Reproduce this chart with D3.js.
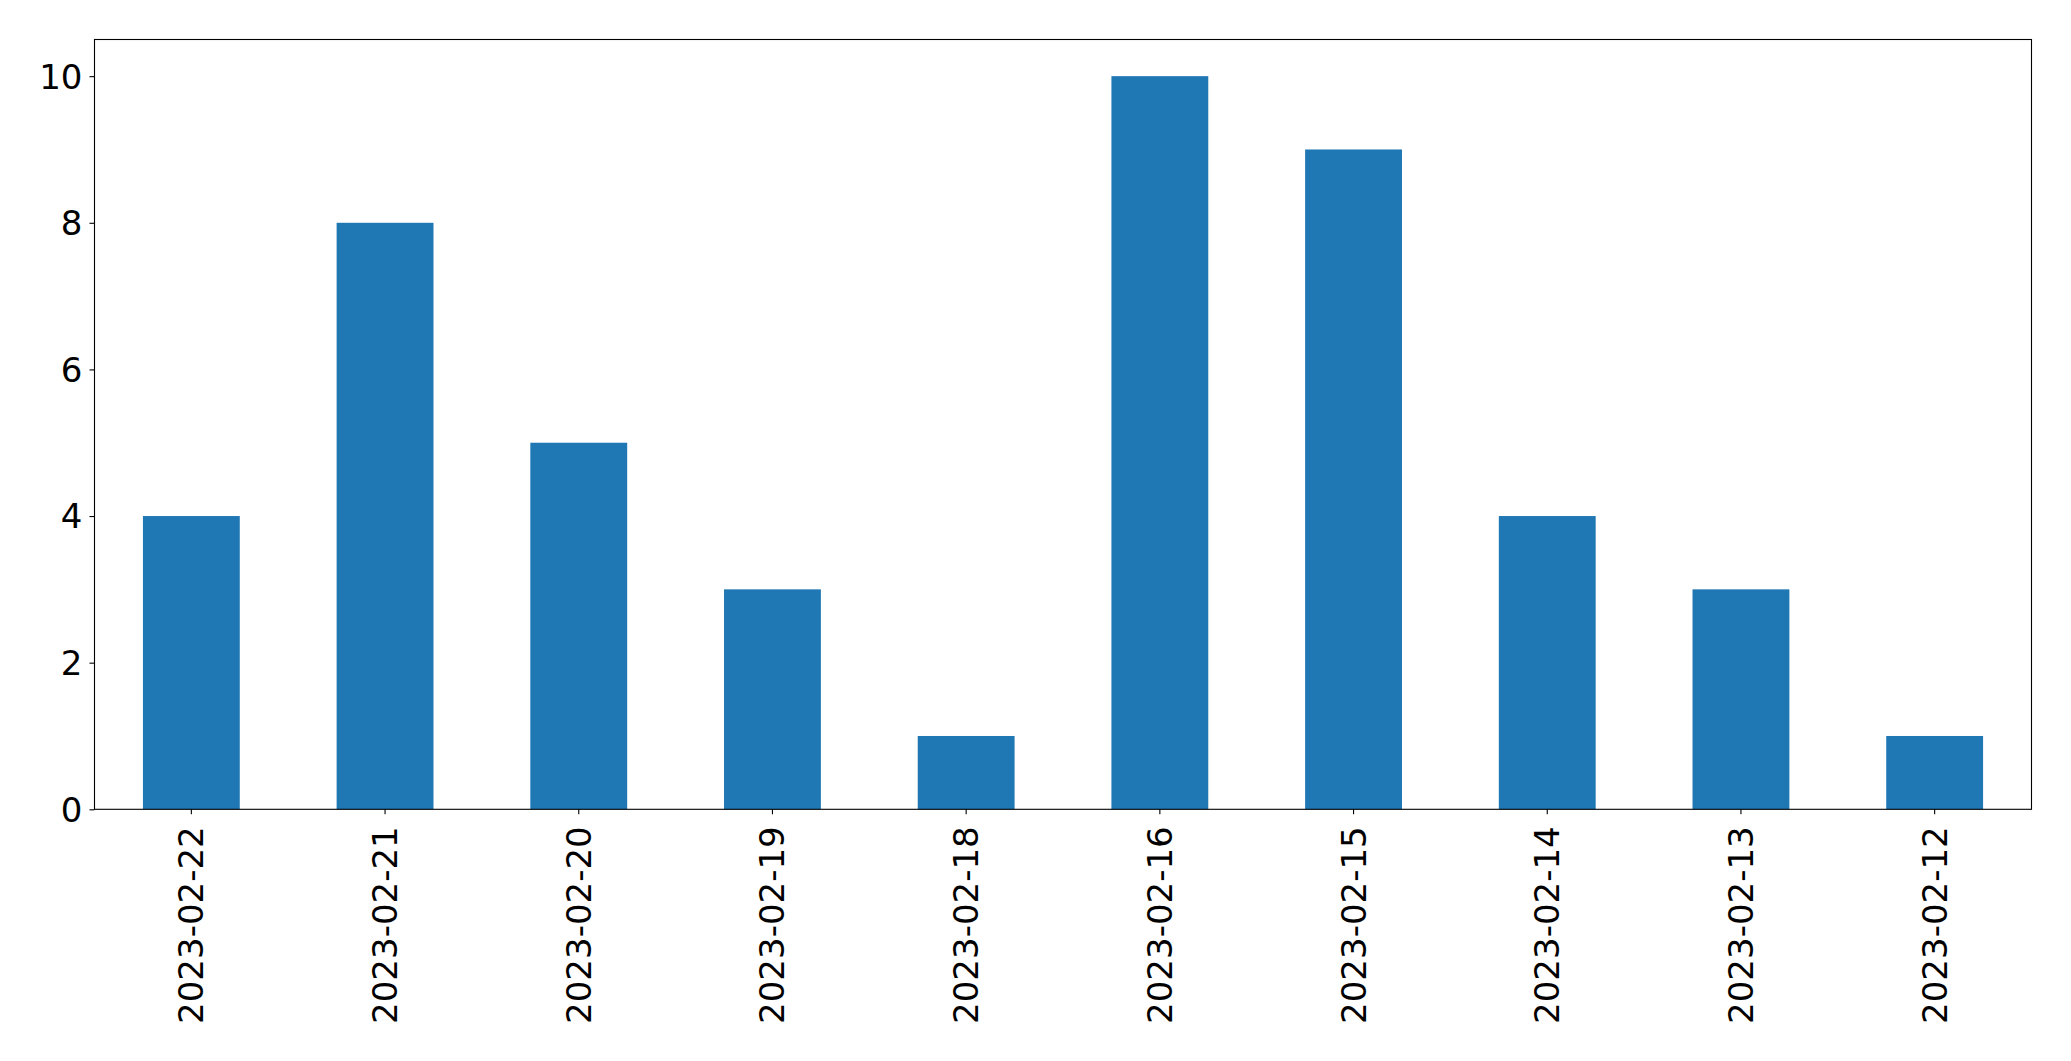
<!DOCTYPE html>
<html><head><meta charset="utf-8">
<script src="https://cdn.jsdelivr.net/npm/d3@7"></script>
<style>body{margin:0;background:#fff}svg{display:block}text{font-family:"DejaVu Sans",sans-serif}</style>
</head><body>
<script>
const categories = ["2023-02-22","2023-02-21","2023-02-20","2023-02-19","2023-02-18","2023-02-16","2023-02-15","2023-02-14","2023-02-13","2023-02-12"];
const values = [4,8,5,3,1,10,9,4,3,1];
const yTicks = [0,2,4,6,8,10];

const W = 2071, H = 1061;
const m = {left:94.5, right:2071-2031.5, top:39.5, bottom:1061-809.3};
const svg = d3.select("body").append("svg").attr("width",W).attr("height",H);
const x = d3.scaleBand().domain(categories).range([m.left, W-m.right]).paddingInner(0.5).paddingOuter(0.25);
const y = d3.scaleLinear().domain([0,10.5]).range([H-m.bottom, m.top]);

svg.append("g").selectAll("rect").data(values).join("rect")
  .attr("x",(d,i)=>x(categories[i])).attr("width",x.bandwidth())
  .attr("y",d=>y(d)).attr("height",d=>y(0)-y(d)).attr("fill","#1f77b4");

const fs = 34;
const ya = svg.append("g").attr("transform",`translate(${m.left},0)`)
  .call(d3.axisLeft(y).tickValues(yTicks).tickSize(5).tickPadding(7).tickFormat(d3.format("d")));
ya.select(".domain").remove();
ya.selectAll("text").attr("font-size",fs).attr("fill","#000").attr("dy","0.35em");
ya.selectAll("line").attr("stroke","#000").attr("stroke-width",1.1);

const xa = svg.append("g").attr("transform",`translate(0,${H-m.bottom})`)
  .call(d3.axisBottom(x).tickSize(5).tickPadding(0));
xa.select(".domain").remove();
xa.selectAll("line").attr("stroke","#000").attr("stroke-width",1.1);
xa.selectAll("text").attr("font-size",fs).attr("fill","#000")
  .attr("text-anchor","end").attr("dy",null).attr("y",0)
  .attr("transform","translate(0,17) rotate(-90)").attr("dominant-baseline","central");

svg.append("rect").attr("x",m.left).attr("y",m.top)
  .attr("width",W-m.left-m.right).attr("height",H-m.top-m.bottom)
  .attr("fill","none").attr("stroke","#000").attr("stroke-width",1.1);
</script>
</body></html>
